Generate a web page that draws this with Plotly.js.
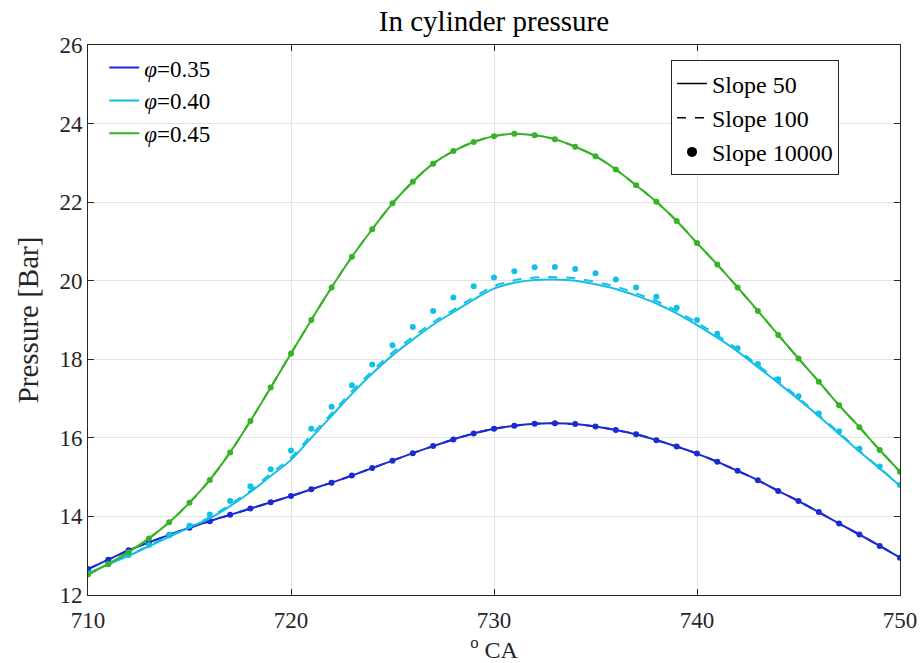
<!DOCTYPE html>
<html>
<head>
<meta charset="utf-8">
<script src="https://cdn.plot.ly/plotly-3.0.1.min.js"></script>
<style>html,body{margin:0;padding:0;background:#fff;}#chart{width:921px;height:663px;}</style>
</head>
<body>
<div id="chart"></div>
<script>
const crankAngle = [710,711,712,713,714,715,716,717,718,719,720,721,722,723,724,725,726,727,728,729,730,731,732,733,734,735,736,737,738,739,740,741,742,743,744,745,746,747,748,749,750];

// phi = 0.35 (solid, dashed and dots coincide)
const p35_slope50 = [12.66,12.90,13.14,13.34,13.53,13.71,13.88,14.04,14.20,14.36,14.52,14.69,14.86,15.04,15.23,15.42,15.61,15.79,15.96,16.11,16.23,16.31,16.36,16.37,16.35,16.29,16.20,16.09,15.94,15.78,15.60,15.39,15.16,14.92,14.65,14.39,14.11,13.82,13.54,13.25,12.95];
const p35_slope100 = [12.66,12.90,13.14,13.34,13.53,13.71,13.88,14.04,14.20,14.36,14.52,14.69,14.86,15.04,15.23,15.42,15.61,15.79,15.96,16.11,16.23,16.31,16.36,16.37,16.35,16.29,16.20,16.09,15.94,15.78,15.60,15.39,15.16,14.92,14.65,14.39,14.11,13.82,13.54,13.25,12.95];
const p35_slope10000 = [12.66,12.90,13.14,13.34,13.53,13.71,13.88,14.04,14.20,14.36,14.52,14.69,14.86,15.04,15.23,15.42,15.61,15.79,15.96,16.11,16.23,16.31,16.36,16.37,16.35,16.29,16.20,16.09,15.94,15.78,15.60,15.39,15.16,14.92,14.65,14.39,14.11,13.82,13.54,13.25,12.95];

// phi = 0.40
const p40_slope50 = [12.55,12.78,13.00,13.24,13.48,13.72,13.95,14.26,14.62,15.03,15.44,16.00,16.56,17.12,17.64,18.10,18.50,18.88,19.20,19.52,19.80,19.95,20.02,20.03,20.00,19.91,19.79,19.62,19.42,19.17,18.87,18.55,18.20,17.80,17.40,16.98,16.55,16.10,15.65,15.22,14.78];
const p40_slope100 = [12.55,12.78,13.01,13.25,13.50,13.74,13.98,14.30,14.66,15.09,15.50,16.07,16.62,17.19,17.70,18.17,18.57,18.94,19.26,19.58,19.86,20.01,20.08,20.09,20.06,19.97,19.85,19.68,19.48,19.23,18.93,18.61,18.25,17.85,17.45,17.02,16.58,16.13,15.67,15.23,14.78];
const p40_slope10000 = [12.55,12.78,13.02,13.27,13.52,13.76,14.05,14.39,14.77,15.20,15.68,16.23,16.79,17.34,17.87,18.36,18.82,19.23,19.57,19.86,20.08,20.24,20.34,20.35,20.30,20.19,20.03,19.83,19.59,19.31,19.00,18.65,18.28,17.88,17.49,17.06,16.62,16.17,15.72,15.27,14.80];

// phi = 0.45
const p45_slope50 = [12.52,12.79,13.09,13.44,13.85,14.35,14.93,15.63,16.43,17.28,18.15,19.00,19.83,20.61,21.31,21.97,22.52,22.98,23.30,23.53,23.68,23.74,23.70,23.60,23.41,23.17,22.83,22.43,22.01,21.52,20.96,20.41,19.83,19.23,18.62,18.02,17.43,16.83,16.27,15.69,15.14];
const p45_slope100 = [12.52,12.79,13.09,13.44,13.85,14.35,14.93,15.63,16.43,17.28,18.15,19.00,19.83,20.61,21.31,21.97,22.52,22.98,23.30,23.53,23.68,23.74,23.70,23.60,23.41,23.17,22.83,22.43,22.01,21.52,20.96,20.41,19.83,19.23,18.62,18.02,17.43,16.83,16.27,15.69,15.14];
const p45_slope10000 = [12.52,12.79,13.09,13.44,13.85,14.35,14.93,15.63,16.43,17.28,18.15,19.00,19.83,20.61,21.31,21.97,22.52,22.98,23.30,23.53,23.68,23.74,23.70,23.60,23.41,23.17,22.83,22.43,22.01,21.52,20.96,20.41,19.83,19.23,18.62,18.02,17.43,16.83,16.27,15.69,15.14];

const seriesNames = ['<i>φ</i>=0.35','<i>φ</i>=0.40','<i>φ</i>=0.45'];
const styleNames = ['Slope 50','Slope 100','Slope 10000'];
const xTicks = [710,720,730,740,750];
const yTicks = [12,14,16,18,20,22,24,26];

const colors = ['#1b2bd0','#12bfe6','#35b324'];
const groups = [
  [p35_slope50,p35_slope100,p35_slope10000],
  [p40_slope50,p40_slope100,p40_slope10000],
  [p45_slope50,p45_slope100,p45_slope10000]
];

const traces = [];
groups.forEach((g,i)=>{
  traces.push({x:crankAngle,y:g[0],mode:'lines',line:{color:colors[i],width:2,shape:'spline',smoothing:1},name:seriesNames[i],legend:'legend',showlegend:true});
  traces.push({x:crankAngle,y:g[1],mode:'lines',line:{color:colors[i],width:2,dash:'dash',shape:'spline',smoothing:1},showlegend:false});
  traces.push({x:crankAngle,y:g[2],mode:'markers',marker:{color:colors[i],size:6},showlegend:false});
});
// style legend entries
traces.push({x:[null],y:[null],mode:'lines',line:{color:'#000',width:1.5},name:styleNames[0],legend:'legend2',showlegend:true});
traces.push({x:[null],y:[null],mode:'lines',line:{color:'#000',width:1.5,dash:'dash'},name:styleNames[1],legend:'legend2',showlegend:true});
traces.push({x:[null],y:[null],mode:'markers',marker:{color:'#000',size:10},name:styleNames[2],legend:'legend2',showlegend:true});

const font = 'Liberation Serif';
const layout = {
  width:921,height:663,
  margin:{l:88,r:21,t:45,b:68},
  paper_bgcolor:'#fff',plot_bgcolor:'#fff',
  font:{family:font,color:'#262626',size:22},
  title:{text:'In cylinder pressure',xref:'paper',x:0.5,xanchor:'center',y:0.968,yanchor:'middle',font:{family:font,size:29,color:'#000'}},
  xaxis:{range:[710,750],tickvals:xTicks,ticktext:xTicks.map(String),ticks:'inside',ticklen:6,tickcolor:'#262626',
    showline:true,linecolor:'#262626',linewidth:1,mirror:'ticks',showgrid:true,gridcolor:'#e3e3e3',gridwidth:1,zeroline:false,
    ticklabelstandoff:4,
    tickfont:{family:font,size:23,color:'#262626'},title:{text:'<sup>o</sup> CA',font:{family:font,size:24,color:'#262626'},standoff:8}},
  yaxis:{range:[12,26],tickvals:yTicks,ticktext:yTicks.map(String),ticks:'inside',ticklen:6,tickcolor:'#262626',
    showline:true,linecolor:'#262626',linewidth:1,mirror:'ticks',showgrid:true,gridcolor:'#e3e3e3',gridwidth:1,zeroline:false,
    tickfont:{family:font,size:23,color:'#262626'},title:{text:'Pressure [Bar]',font:{family:font,size:29,color:'#262626'},standoff:12}},
  legend:{x:0.02,y:0.998,xanchor:'left',yanchor:'top',bgcolor:'rgba(0,0,0,0)',borderwidth:0,font:{family:font,size:23,color:'#000'},tracegroupgap:0},
  legend2:{x:0.718,y:0.972,xanchor:'left',yanchor:'top',bgcolor:'#fff',bordercolor:'#262626',borderwidth:1,font:{family:font,size:24,color:'#000'},tracegroupgap:0},
  showlegend:true
};
Plotly.newPlot('chart',traces,layout,{displayModeBar:false,staticPlot:true});
</script>
</body>
</html>
